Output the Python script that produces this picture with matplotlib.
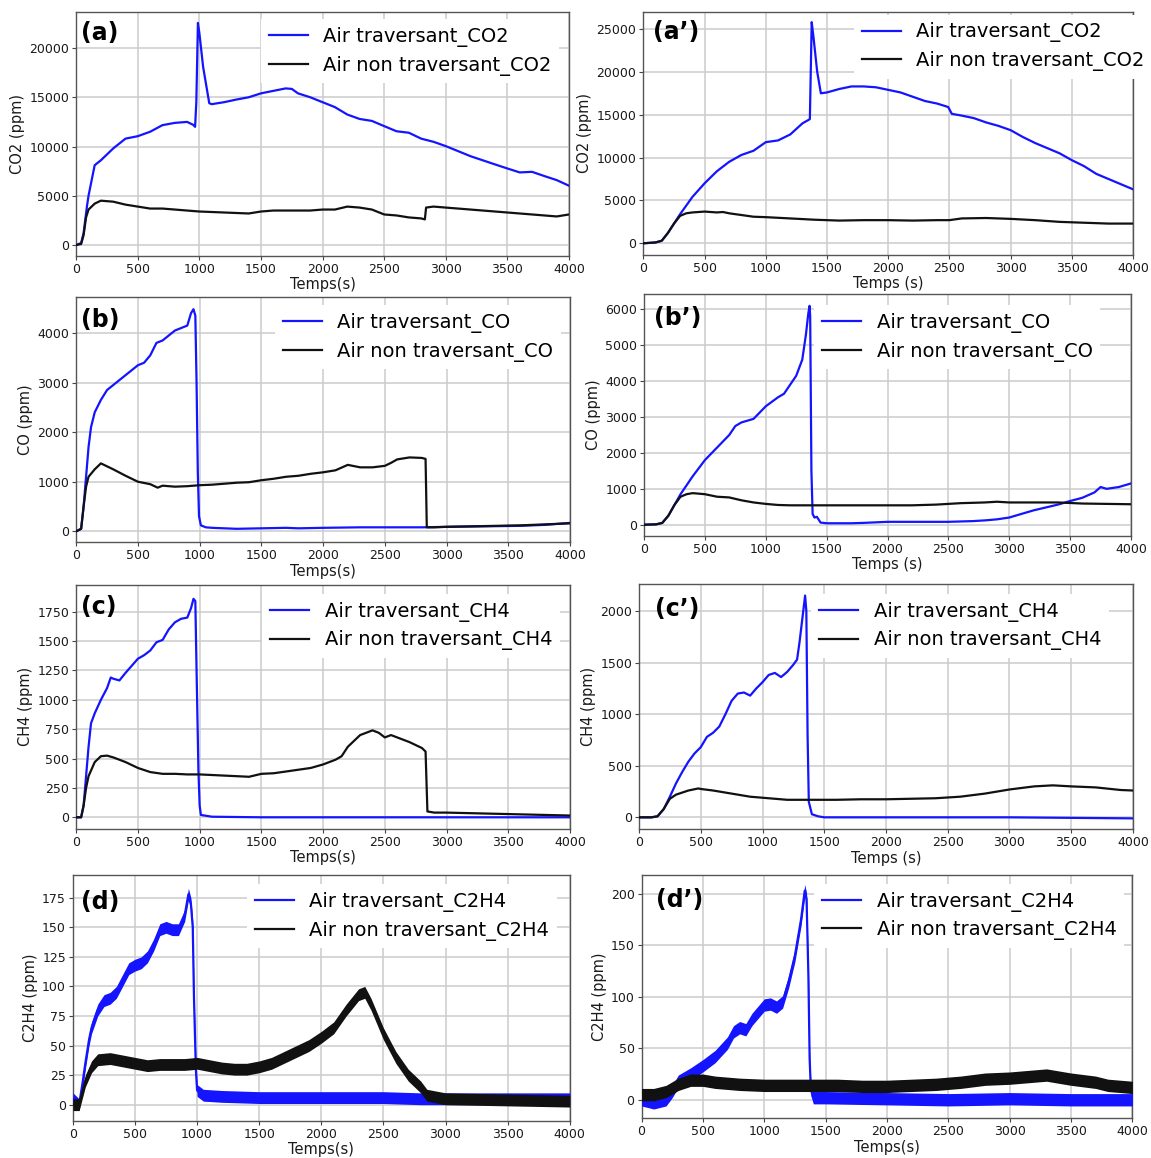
import numpy as np
import matplotlib
matplotlib.use("Agg")
import matplotlib.pyplot as plt

# ---------------- DATA ----------------
# (a) CO2, test 1
t_a_blue = [0, 40, 60, 87, 100, 150, 200, 300, 400, 500, 600, 700, 800, 900, 950, 965, 975, 988, 1000, 1030, 1080, 1100,
            1200, 1300, 1400, 1500, 1600, 1700, 1750, 1800, 1900, 2000, 2100, 2200, 2300, 2400, 2500, 2600, 2700, 2800,
            2900, 3000, 3200, 3400, 3500, 3600, 3700, 3800, 3900, 4000]
v_a_blue = [0, 200, 1200, 3900, 5000, 8100, 8600, 9800, 10800, 11050, 11500, 12170, 12400, 12500, 12200, 12000, 14500, 22550,
            21500, 18100, 14400, 14300, 14500, 14770, 15000, 15400, 15650, 15900, 15850, 15400, 15000, 14500, 14000, 13250,
            12800, 12600, 12070, 11550, 11400, 10800, 10480, 10040, 9020, 8180, 7770, 7370, 7430, 7000, 6590, 6020]
t_a_black = [0, 40, 60, 80, 100, 150, 200, 300, 400, 500, 600, 700, 800, 900, 1000, 1100, 1200, 1300, 1400, 1500, 1600,
             1700, 1800, 1900, 2000, 2100, 2200, 2300, 2400, 2500, 2600, 2700, 2800, 2830, 2840, 2900, 3000, 3200, 3400,
             3600, 3800, 3900, 4000]
v_a_black = [0, 100, 1000, 2800, 3600, 4200, 4500, 4400, 4100, 3900, 3700, 3700, 3600, 3500, 3400, 3350, 3300, 3250, 3200,
             3400, 3500, 3500, 3500, 3500, 3600, 3600, 3900, 3800, 3600, 3100, 3000, 2800, 2700, 2600, 3800, 3900, 3800,
             3600, 3400, 3200, 3000, 2900, 3100]

# (a') CO2, test 2
t_a2_blue = [0, 100, 150, 200, 250, 300, 400, 500, 600, 700, 800, 900, 1000, 1100, 1200, 1300, 1350, 1360, 1375, 1390, 1420,
             1450, 1500, 1600, 1700, 1800, 1900, 2000, 2100, 2200, 2300, 2400, 2490, 2520, 2600, 2700, 2800, 2900, 3000,
             3100, 3200, 3300, 3400, 3500, 3600, 3700, 3800, 3900, 4000]
v_a2_blue = [0, 100, 300, 1200, 2300, 3400, 5400, 7000, 8400, 9500, 10300, 10800, 11800, 12000, 12700, 14000, 14400, 14500,
             25800, 24000, 20000, 17500, 17600, 18000, 18300, 18300, 18200, 17900, 17600, 17100, 16600, 16300, 15900, 15100,
             14900, 14600, 14100, 13700, 13200, 12400, 11700, 11100, 10500, 9700, 9000, 8100, 7500, 6900, 6300]
t_a2_black = [0, 100, 150, 200, 250, 300, 350, 400, 500, 600, 650, 700, 800, 900, 1000, 1200, 1400, 1600, 1800, 2000, 2200,
              2400, 2500, 2600, 2800, 3000, 3200, 3400, 3600, 3800, 4000]
v_a2_black = [0, 100, 300, 1200, 2300, 3200, 3500, 3600, 3700, 3600, 3650, 3500, 3300, 3100, 3050, 2900, 2750, 2650, 2700,
              2700, 2650, 2700, 2700, 2900, 2950, 2850, 2700, 2500, 2400, 2300, 2300]

# (b) CO, test 1
t_b_blue = [0, 40, 60, 80, 100, 120, 150, 200, 250, 300, 400, 500, 550, 600, 650, 700, 800, 850, 900, 930, 950, 965, 975,
            985, 995, 1010, 1050, 1100, 1300, 1500, 1700, 1800, 2000, 2300, 2500, 2800, 3000, 3300, 3600, 3800, 4000]
v_b_blue = [0, 50, 500, 1100, 1700, 2100, 2400, 2650, 2850, 2950, 3150, 3350, 3400, 3550, 3800, 3850, 4050, 4100, 4150, 4400,
            4480, 4350, 3000, 1200, 300, 120, 80, 70, 50, 60, 70, 60, 70, 80, 80, 80, 90, 100, 110, 130, 170]
t_b_black = [0, 40, 60, 80, 100, 150, 200, 300, 400, 500, 600, 660, 700, 800, 900, 1000, 1100, 1200, 1300, 1400, 1500, 1600,
             1700, 1800, 1900, 2000, 2100, 2200, 2300, 2400, 2500, 2550, 2600, 2700, 2800, 2830, 2840, 2900, 3000, 3200,
             3400, 3600, 3800, 4000]
v_b_black = [0, 50, 500, 900, 1100, 1250, 1370, 1250, 1120, 1000, 950, 880, 920, 900, 910, 930, 940, 960, 980, 990, 1030,
             1060, 1100, 1120, 1160, 1190, 1230, 1340, 1290, 1290, 1320, 1380, 1450, 1490, 1480, 1460, 80, 80, 90, 100, 110,
             120, 140, 160]

# (b') CO, test 2
t_b2_blue = [0, 100, 150, 200, 250, 300, 400, 500, 600, 700, 750, 800, 900, 1000, 1100, 1150, 1200, 1250, 1300, 1330, 1350,
             1360, 1365, 1375, 1385, 1400, 1420, 1450, 1500, 1700, 1800, 2000, 2200, 2500, 2700, 2800, 2900, 3000, 3100,
             3200, 3300, 3400, 3500, 3600, 3700, 3750, 3800, 3900, 4000]
v_b2_blue = [0, 10, 50, 250, 550, 850, 1350, 1800, 2150, 2500, 2750, 2850, 2950, 3300, 3550, 3650, 3900, 4150, 4600, 5300,
             5900, 6100, 5800, 1500, 300, 200, 220, 60, 40, 40, 50, 80, 80, 80, 100, 120, 150, 200, 300, 400, 480, 560, 660,
             750, 900, 1050, 1000, 1050, 1150]
t_b2_black = [0, 100, 150, 200, 250, 300, 350, 400, 500, 600, 700, 800, 900, 1000, 1100, 1200, 1400, 1600, 1800, 2000, 2200,
              2400, 2600, 2800, 2900, 3000, 3200, 3400, 3600, 3800, 4000]
v_b2_black = [0, 10, 50, 250, 550, 780, 850, 880, 850, 780, 760, 680, 620, 580, 550, 540, 540, 540, 540, 540, 540, 560, 600,
              620, 640, 620, 620, 620, 590, 580, 570]

# (c) CH4, test 1
t_c_blue = [0, 40, 60, 80, 100, 120, 150, 200, 250, 280, 300, 350, 400, 500, 550, 600, 650, 700, 750, 800, 850, 900, 930,
            950, 965, 975, 990, 1000, 1010, 1100, 1500, 2000, 2500, 3000, 3500, 4000]
v_c_blue = [0, 0, 100, 350, 600, 800, 885, 1000, 1100, 1190, 1180, 1165, 1230, 1350, 1380, 1420, 1490, 1510, 1600, 1660,
            1690, 1700, 1780, 1860, 1840, 1250, 400, 100, 20, 5, 0, 0, 0, 0, 0, 0]
t_c_black = [0, 40, 60, 80, 100, 150, 200, 250, 300, 400, 500, 600, 700, 800, 900, 1000, 1100, 1200, 1300, 1400, 1500, 1600,
             1700, 1800, 1900, 2000, 2100, 2150, 2200, 2300, 2400, 2450, 2500, 2550, 2600, 2700, 2800, 2830, 2845, 2900,
             3000, 3200, 3400, 3600, 3800, 4000]
v_c_black = [0, 0, 100, 250, 350, 470, 520, 525, 510, 470, 420, 385, 370, 370, 365, 365, 360, 355, 350, 345, 370, 375, 390,
             405, 420, 450, 490, 520, 600, 700, 740, 720, 680, 700, 680, 640, 590, 560, 50, 40, 40, 35, 30, 25, 20, 15]

# (c') CH4, test 2
t_c2_blue = [0, 100, 150, 200, 250, 300, 350, 400, 450, 500, 550, 600, 650, 700, 750, 800, 850, 900, 950, 1000, 1050, 1100,
             1150, 1200, 1250, 1280, 1300, 1330, 1345, 1355, 1365, 1375, 1400, 1450, 1500, 2000, 3000, 4000]
v_c2_blue = [0, 0, 10, 80, 200, 330, 440, 540, 620, 680, 780, 820, 880, 1000, 1130, 1200, 1210, 1180, 1250, 1310, 1380, 1400,
             1360, 1410, 1480, 1530, 1700, 2000, 2150, 2000, 800, 150, 30, 10, 0, 0, 0, -10]
t_c2_black = [0, 100, 150, 200, 250, 300, 400, 480, 500, 600, 700, 800, 900, 1000, 1100, 1200, 1400, 1600, 1800, 2000, 2200,
              2400, 2600, 2800, 3000, 3200, 3350, 3500, 3700, 3900, 4000]
v_c2_black = [0, 0, 10, 80, 180, 220, 260, 280, 275, 260, 240, 220, 200, 190, 180, 170, 170, 170, 175, 175, 180, 185, 200,
              230, 270, 300, 310, 300, 290, 265, 260]

# (d) C2H4, test 1
t_d_blue = [0, 50, 80, 100, 130, 150, 200, 250, 300, 350, 400, 450, 500, 550, 600, 650, 700, 750, 800, 850, 900, 930, 950,
            965, 975, 990, 1000, 1050, 1200, 1500, 2000, 2500, 2800, 3000, 3500, 4000]
v_d_blue = [5, 0, 20, 35, 55, 65, 80, 88, 90, 95, 105, 115, 118, 120, 125, 135, 148, 150, 148, 148, 160, 178, 170, 150, 90,
            30, 12, 8, 7, 6, 6, 6, 5, 5, 5, 5]
t_d_black = [0, 50, 100, 150, 200, 300, 400, 500, 600, 700, 800, 900, 1000, 1100, 1200, 1300, 1400, 1500, 1600, 1700, 1800,
             1900, 2000, 2100, 2200, 2300, 2350, 2400, 2500, 2600, 2700, 2800, 2850, 3000, 3500, 4000]
v_d_black = [0, 0, 20, 32, 38, 39, 37, 35, 33, 34, 34, 34, 35, 33, 31, 30, 30, 32, 35, 40, 45, 50, 57, 65, 80, 93, 95, 85,
             60, 40, 25, 15, 8, 5, 4, 3]

# (d') C2H4, test 2
t_d2_blue = [0, 100, 200, 250, 300, 400, 500, 600, 700, 750, 800, 850, 900, 1000, 1050, 1100, 1150, 1200, 1250, 1300, 1330,
             1345, 1360, 1370, 1380, 1400, 1500, 2000, 2500, 3000, 3500, 4000]
v_d2_blue = [0, -3, 0, 8, 18, 25, 33, 42, 55, 66, 70, 68, 78, 92, 93, 90, 95, 115, 140, 175, 203, 195, 120, 40, 10, 2, 2, 1,
             0, 1, 0, 0]
t_d2_black = [0, 100, 200, 300, 400, 500, 600, 700, 800, 1000, 1200, 1400, 1600, 1800, 2000, 2200, 2400, 2600, 2800, 3000,
              3200, 3300, 3500, 3700, 3800, 4000]
v_d2_black = [5, 5, 8, 15, 19, 19, 17, 16, 15, 14, 14, 14, 14, 13, 13, 14, 15, 17, 20, 21, 23, 24, 20, 17, 14, 12]

# half-width of the measurement-noise band (ppm) seen on the C2H4 traces
noise_d = [5, 5]     # blue, black
noise_d2 = [6, 6]

x_ticks = [0, 500, 1000, 1500, 2000, 2500, 3000, 3500, 4000]
legend_blue = ["Air traversant_CO2", "Air traversant_CO", "Air traversant_CH4", "Air traversant_C2H4"]
legend_black = ["Air non traversant_CO2", "Air non traversant_CO", "Air non traversant_CH4", "Air non traversant_C2H4"]
y_labels = ["CO2 (ppm)", "CO (ppm)", "CH4 (ppm)", "C2H4 (ppm)"]
panel_tags = ["(a)", "(a\u2019)", "(b)", "(b\u2019)", "(c)", "(c\u2019)", "(d)", "(d\u2019)"]
x_labels = ["Temps(s)", "Temps (s)", "Temps(s)", "Temps (s)", "Temps(s)", "Temps (s)", "Temps(s)", "Temps(s)"]

# ---------------- LAYOUT ----------------
W, H = 1151, 1158
fig = plt.figure(figsize=(W / 100, H / 100), dpi=100)
plt.rcParams['font.family'] = ['DejaVu Sans']

boxes = [  # left, top, width, height in pixels
    (76.2, 11.7, 492.8, 244.3), (643.4, 11.7, 489.6, 243.3),
    (76.2, 297.3, 493.8, 245.0), (644.0, 294.0, 487.0, 242.0),
    (76.2, 584.7, 493.8, 244.0), (639.0, 584.0, 494.0, 245.3),
    (72.9, 875.3, 496.8, 245.7), (641.5, 875.3, 490.9, 243.0),
]
ylims = [(-1117, 23690), (-1365, 27018), (-222, 4720), (-315, 6430),
         (-97, 1980), (-116, 2262), (-13.8, 194), (-18, 218)]
yticks = [np.arange(0, 20001, 5000), np.arange(0, 25001, 5000), np.arange(0, 4001, 1000), np.arange(0, 6001, 1000),
          np.arange(0, 1751, 250), np.arange(0, 2001, 500), np.arange(0, 176, 25), np.arange(0, 201, 50)]
leg_pos = [(0.375, 0.838), (0.43, 0.856), (0.403, 0.837), (0.35, 0.821),
           (0.377, 0.831), (0.349, 0.829), (0.351, 0.833), (0.352, 0.833)]
tag_pos = [(0.009, 0.913), (0.02, 0.918), (0.009, 0.906), (0.0215, 0.90),
           (0.009, 0.91), (0.032, 0.90), (0.016, 0.89), (0.03, 0.897)]

series = [
    (t_a_blue, v_a_blue, t_a_black, v_a_black, None),
    (t_a2_blue, v_a2_blue, t_a2_black, v_a2_black, None),
    (t_b_blue, v_b_blue, t_b_black, v_b_black, None),
    (t_b2_blue, v_b2_blue, t_b2_black, v_b2_black, None),
    (t_c_blue, v_c_blue, t_c_black, v_c_black, None),
    (t_c2_blue, v_c2_blue, t_c2_black, v_c2_black, None),
    (t_d_blue, v_d_blue, t_d_black, v_d_black, noise_d),
    (t_d2_blue, v_d2_blue, t_d2_black, v_d2_black, noise_d2),
]

BLUE = "#1414ff"
BLACK = "#111111"

for i, (l, t, w, h) in enumerate(boxes):
    ax = fig.add_axes([l / W, 1 - (t + h) / H, w / W, h / H])
    tb, vb, tk, vk, noise = series[i]
    ax.plot(tb, vb, color=BLUE, lw=1.6, label=legend_blue[i // 2], zorder=3)
    ax.plot(tk, vk, color=BLACK, lw=1.6, label=legend_black[i // 2], zorder=4)
    if noise is not None:
        vb_a = np.asarray(vb, float)
        vk_a = np.asarray(vk, float)
        ax.fill_between(tb, vb_a - noise[0], vb_a + noise[0], color=BLUE, lw=0, zorder=3)
        ax.fill_between(tk, vk_a - noise[1], vk_a + noise[1], color=BLACK, lw=0, zorder=4)
    ax.set_xlim(0, 4000)
    ax.set_ylim(*ylims[i])
    ax.set_xticks(x_ticks)
    ax.set_yticks(yticks[i])
    ax.grid(True, color="#cccccc", lw=1.1)
    ax.set_axisbelow(True)
    for s in ax.spines.values():
        s.set_color("#555555")
        s.set_linewidth(1.0)
    ax.tick_params(length=3, width=0.8, colors="#444444", labelcolor="#1a1a1a", labelsize=9, pad=2)
    ax.set_xlabel(x_labels[i], fontsize=10.5, color="#1a1a1a", labelpad=1)
    ax.set_ylabel(y_labels[i // 2], fontsize=10.5, color="#1a1a1a", labelpad=3)
    leg = ax.legend(loc="center left", bbox_to_anchor=leg_pos[i], fontsize=14, frameon=True, framealpha=1,
                    edgecolor="none", facecolor="white", handlelength=2.0, labelspacing=0.45, borderaxespad=0,
                    handletextpad=0.8, fancybox=False)
    leg.set_zorder(5)
    for ln in leg.get_lines():
        ln.set_linewidth(1.6)
    ax.text(tag_pos[i][0], tag_pos[i][1], panel_tags[i], transform=ax.transAxes, fontsize=17,
            fontweight="bold", va="center", ha="left", zorder=6)

fig.savefig("out.png", dpi=100, facecolor="white")
